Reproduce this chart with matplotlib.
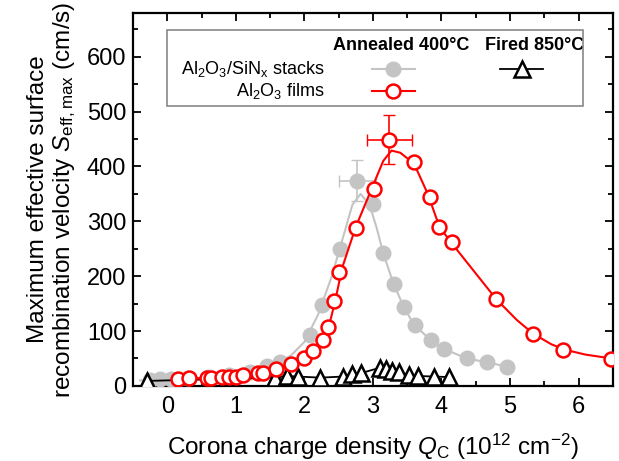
import matplotlib

matplotlib.use('Agg')
import matplotlib.pyplot as plt
from matplotlib.patches import Rectangle

plt.rcParams['font.family'] = ['Liberation Sans', 'DejaVu Sans']
plt.rcParams['mathtext.fontset'] = 'custom'
plt.rcParams['mathtext.rm'] = 'Liberation Sans'
plt.rcParams['mathtext.it'] = 'Liberation Sans:italic'

# Al2O3 films, annealed 400 C (open red circles)
films_q = [0.15, 0.32, 0.58, 0.63, 0.80, 0.90, 1.00, 1.11, 1.32, 1.40, 1.59, 1.80,
           1.99, 2.12, 2.27, 2.35, 2.43, 2.51, 2.75, 3.02, 3.24, 3.60, 3.83, 3.97,
           4.15, 4.79, 5.34, 5.78, 6.48]
films_s = [12, 14, 14, 15, 16, 16, 17, 20, 24, 24, 30, 39,
           50, 64, 84, 108, 155, 208, 288, 359, 449, 409, 345, 289,
           262, 158, 95, 66, 49]
# fit curve through the films data
films_fit_q = [0.10, 1.00, 1.50, 1.80, 2.00, 2.20, 2.35, 2.45, 2.55, 2.75, 3.00,
               3.15, 3.27, 3.40, 3.60, 3.80, 3.97, 4.15, 4.50, 4.80, 5.10, 5.34,
               5.60, 5.80, 6.10, 6.48]
films_fit_s = [12, 17, 27, 40, 52, 72, 105, 155, 215, 290, 365,
               410, 429, 425, 405, 350, 290, 260, 205, 158, 120, 95,
               76, 66, 57, 50]

# Al2O3/SiNx stacks, annealed 400 C (filled grey circles)
stack_q = [-0.25, -0.10, 0.05, 0.30, 0.60, 0.90, 1.20, 1.45, 1.65, 2.08, 2.25,
           2.52, 2.77, 3.00, 3.15, 3.30, 3.45, 3.61, 3.84, 4.04, 4.37, 4.66, 4.96]
stack_s = [11, 12, 13, 14, 16, 19, 25, 37, 44, 92, 148,
           249, 374, 332, 242, 186, 144, 111, 84, 67, 50, 43, 35]
stack_fit_q = [-0.40, 0.00, 1.00, 1.50, 1.80, 2.00, 2.20, 2.40, 2.55, 2.70, 2.82,
               2.95, 3.05, 3.15, 3.30, 3.45, 3.60, 3.84, 4.04, 4.37, 4.66, 4.96]
stack_fit_s = [10, 12, 17, 35, 55, 80, 130, 200, 265, 330, 350,
               330, 290, 242, 186, 144, 111, 84, 67, 50, 43, 35]

# Al2O3/SiNx stacks, fired 850 C (open triangles)
fired_q = [-0.30, 1.57, 1.74, 1.90, 2.23, 2.57, 2.69, 2.82, 3.10, 3.19, 3.28,
           3.38, 3.52, 3.66, 3.89, 4.11]
fired_s = [9, 15, 18, 17, 15, 17, 22, 23, 33, 31, 28, 25, 20, 18, 17, 16]

# error bars on the peak points
stack_peak = (2.77, 374, 0.27, 37)
films_peak = (3.24, 449, 0.33, 45)

fig = plt.figure(figsize=(6.19, 4.61), dpi=100)
ax = fig.add_axes([0.215, 0.163, 0.775, 0.809])

grey = '#c4c4c4'
ax.plot(stack_fit_q, stack_fit_s, color=grey, lw=1.5, zorder=2)
ax.errorbar(stack_peak[0], stack_peak[1], xerr=stack_peak[2], yerr=stack_peak[3],
            fmt='none', ecolor=grey, elinewidth=1.2, capsize=4, zorder=2)
ax.plot(stack_q, stack_s, 'o', ms=10.5, color=grey, mec=grey, zorder=3)

ax.plot(fired_q, fired_s, '-^', color='black', lw=1.3, ms=11, mfc='white',
        mec='black', mew=1.8, zorder=4)

ax.plot(films_fit_q, films_fit_s, color='red', lw=1.5, zorder=5)
ax.errorbar(films_peak[0], films_peak[1], xerr=films_peak[2], yerr=films_peak[3],
            fmt='none', ecolor='red', elinewidth=1.2, capsize=4, zorder=5)
ax.plot(films_q, films_s, 'o', ms=10, color='red', mfc='white', mec='red',
        mew=1.8, zorder=6)

ax.set_xlim(-0.5, 6.5)
ax.set_ylim(0, 680)
ax.set_xticks(range(0, 7))
ax.set_yticks(range(0, 700, 100))
ax.set_xticks([x * 0.5 for x in range(-1, 14)], minor=True)
ax.set_yticks(range(0, 700, 50), minor=True)
ax.tick_params(which='both', direction='in', top=True, right=True, width=1.3)
ax.tick_params(which='major', length=6, labelsize=17)
ax.tick_params(which='minor', length=3.5)
ax.tick_params(axis='x', pad=7)
ax.tick_params(axis='y', pad=5)
for sp in ax.spines.values():
    sp.set_linewidth(1.6)

ax.set_xlabel(r'Corona charge density $Q_\mathregular{C}$ (10$^{\mathregular{12}}$ cm$^{\mathregular{-2}}$)',
              fontsize=17.5, labelpad=10)
ax.set_ylabel('Maximum effective surface\n'
              r'recombination velocity $S_\mathregular{eff,max}$ (cm/s)',
              fontsize=17.5, labelpad=6, linespacing=1.15)

# legend block
ax.add_patch(Rectangle((0.071, 0.751), 0.866, 0.203, transform=ax.transAxes,
                       fill=False, edgecolor='#888888', lw=1.2, zorder=7))
ax.text(0.416, 0.9115, 'Annealed 400°C', transform=ax.transAxes, fontsize=13,
        fontweight='bold', va='center', ha='left')
ax.text(0.733, 0.9115, 'Fired 850°C', transform=ax.transAxes, fontsize=13,
        fontweight='bold', va='center', ha='left')
ax.text(0.40, 0.849, r'Al$_\mathregular{2}$O$_\mathregular{3}$/SiN$_\mathregular{x}$ stacks',
        transform=ax.transAxes, fontsize=13, va='center', ha='right')
ax.text(0.40, 0.791, r'Al$_\mathregular{2}$O$_\mathregular{3}$ films',
        transform=ax.transAxes, fontsize=13, va='center', ha='right')
ax.plot([0.497, 0.588], [0.849, 0.849], color=grey, lw=1.5, transform=ax.transAxes)
ax.plot([0.5425], [0.849], 'o', ms=10.5, color=grey, transform=ax.transAxes)
ax.plot([0.497, 0.588], [0.791, 0.791], color='red', lw=1.5, transform=ax.transAxes)
ax.plot([0.5425], [0.791], 'o', ms=10, mfc='white', mec='red', mew=1.8,
        transform=ax.transAxes)
ax.plot([0.765, 0.854], [0.849, 0.849], color='black', lw=1.3, transform=ax.transAxes)
ax.plot([0.81], [0.849], '^', ms=11, mfc='white', mec='black', mew=1.8,
        transform=ax.transAxes)

fig.savefig('out.png', dpi=100)
